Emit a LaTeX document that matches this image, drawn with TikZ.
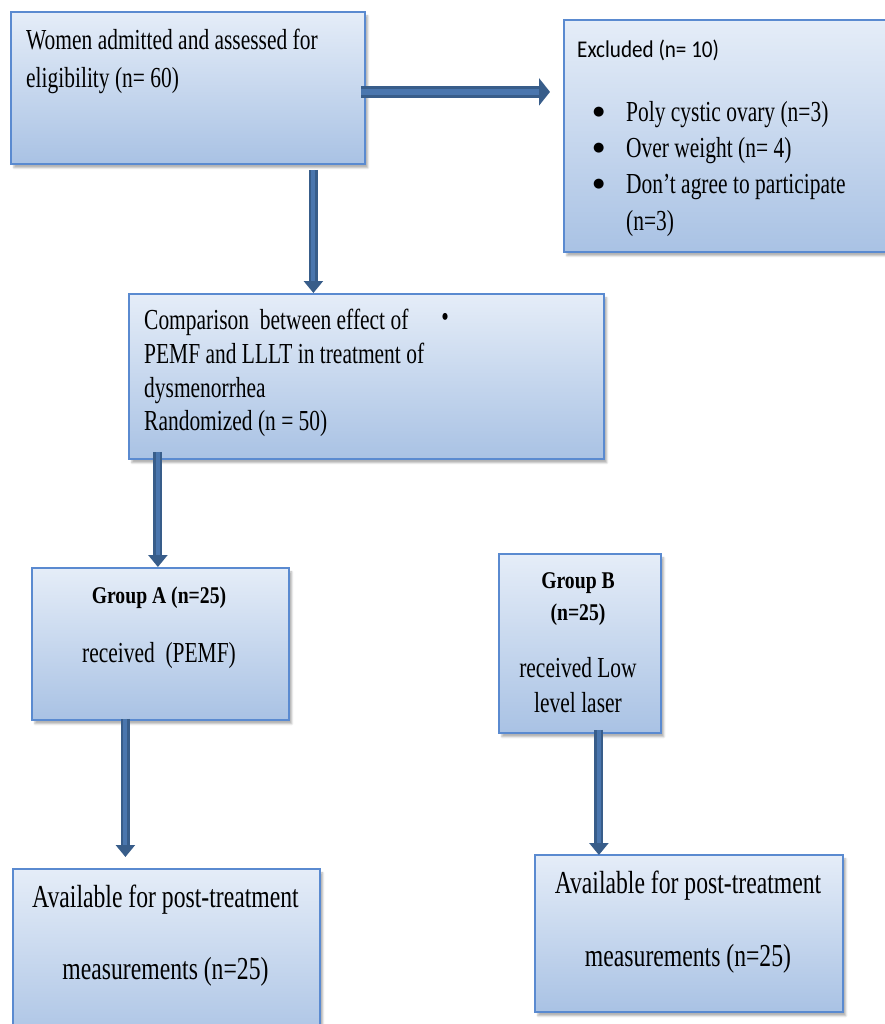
\documentclass[tikz,border=0pt]{standalone}
\usepackage{fontspec}
\setmainfont{Liberation Serif}[FakeStretch=0.74]
\newfontfamily\titlefont{Liberation Serif}[FakeStretch=0.82]
\newfontfamily\exclfont{Carlito}[FakeStretch=0.88]
\newfontfamily\dotfont{DejaVu Sans}
\usetikzlibrary{arrows.meta, positioning, shadows.blur}

\definecolor{boxline}{HTML}{5A8AD0}
\definecolor{boxtop}{HTML}{E5EDF8}
\definecolor{boxbot}{HTML}{A9C2E4}
\definecolor{arrowdark}{HTML}{385D8A}
\definecolor{arrowfill}{HTML}{4A76AE}

\newcommand{\listdot}{\makebox[33pt][l]{\raisebox{6pt}{\dotfont\fontsize{13}{13}\selectfont ●}}}

\begin{document}
\begin{tikzpicture}[
  x=1pt, y=-1pt,
  box/.style={draw=boxline, line width=1.8pt, top color=boxtop, bottom color=boxbot,
    blur shadow={shadow xshift=3pt, shadow yshift=-4pt, shadow opacity=30},
    inner sep=0, anchor=north west},
  txt/.style={inner sep=0, align=left, font=\fontsize{29}{38}\selectfont},
  title/.style={inner sep=0, align=center, font=\titlefont\bfseries\fontsize{24}{32}\selectfont},
  harrow/.style={draw=arrowdark, line width=3pt, double=arrowfill, double distance=6pt,
    -{Triangle[length=11pt, width=27pt]}},
  varrow/.style={draw=arrowdark, line width=2.5pt, double=arrowfill, double distance=4pt,
    -{Triangle[length=12pt, width=19pt]}}
]
\useasboundingbox (0,0) rectangle (884,1024);

% boxes
\node[box, minimum width=354, minimum height=152] (screened) at (10,11) {};
\node[box, minimum width=340, minimum height=232] (excluded) at (563,19) {};
\node[box, minimum width=475, minimum height=165] (randomized) at (128,293) {};
\node[box, minimum width=257, minimum height=152] (groupA) at (31,567) {};
\node[box, minimum width=162, minimum height=179] (groupB) at (498,553) {};
\node[box, minimum width=307, minimum height=180] (followA) at (12,868) {};
\node[box, minimum width=308, minimum height=157] (followB) at (534,854) {};

% texts
\node[txt, anchor=north west] (screenedText) at (26,29) {Women admitted and assessed for\\eligibility (n= 60)};
\node[inner sep=0, anchor=base west, font=\exclfont\fontsize{24}{28}\selectfont] (excludedTitle) at (577,58) {Excluded (n= 10)};
\node[txt, anchor=north west, font=\fontsize{29}{36.3}\selectfont] (excludedList) at (593,101)
  {\listdot Poly cystic ovary (n=3)\\
   \listdot Over weight (n= 4)\\
   \listdot Don’t agree to participate\\
   \hspace*{33pt}(n=3)};
\node[txt, anchor=north west, font=\fontsize{29}{33.7}\selectfont] (randomizedText) at (144,309)
  {Comparison\ \ between effect of\\PEMF and LLLT in treatment of\\dysmenorrhea\\Randomized (n = 50)};
\node[inner sep=0, font=\fontsize{29}{29}\selectfont] (strayDot) at (445,320) {•};
\node[title, anchor=base] (groupATitle) at (159,603) {Group A (n=25)};
\node[txt, anchor=base] (groupAText) at (159,662) {received\ \ (PEMF)};
\node[title, anchor=north] (groupBTitle) at (578,572) {Group B\\(n=25)};
\node[txt, anchor=north, align=center, font=\fontsize{29}{35}\selectfont] (groupBText) at (578,657) {received Low\\level laser};
\node[txt, anchor=north, align=center, font=\fontsize{32}{72}\selectfont] (followAText) at (165.5,885) {Available for post-treatment\\measurements (n=25)};
\node[txt, anchor=north, align=center, font=\fontsize{32}{73}\selectfont] (followBText) at (688,871) {Available for post-treatment\\measurements (n=25)};

% arrows
\draw[harrow, shorten <=-5pt, shorten >=13pt] ([yshift=-4pt]screened.east) -- ([yshift=-4pt]screened.east -| excluded.west);
\draw[varrow, shorten <=5pt] ([xshift=125.5pt]screened.south) -- ([xshift=125.5pt]screened.south |- randomized.north);
\draw[varrow, shorten <=-8pt] ([xshift=-2.5pt]groupA.north |- randomized.south) -- ([xshift=-2.5pt]groupA.north);
\draw[varrow, shorten <=-2pt, shorten >=11pt] ([xshift=-35pt]groupA.south) -- ([xshift=-35pt]groupA.south |- followA.north);
\draw[varrow, shorten <=-4pt, shorten >=-1pt] ([xshift=19pt]groupB.south) -- ([xshift=19pt]groupB.south |- followB.north);
\end{tikzpicture}
\end{document}
